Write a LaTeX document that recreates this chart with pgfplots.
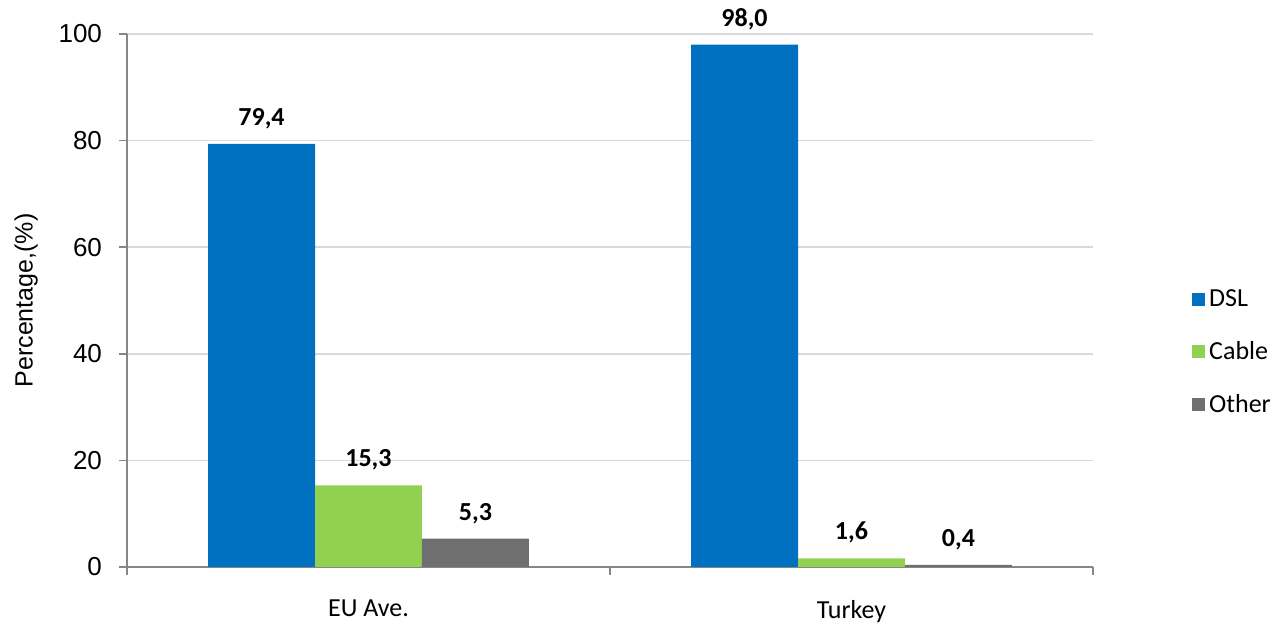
\documentclass[border=0pt]{standalone}
\usepackage{pgfplots}
\pgfplotsset{compat=1.18}
\usepackage{fontspec}
\setmainfont{Carlito}
\newfontfamily\arialf{Liberation Sans}
\definecolor{dsl}{HTML}{0070C0}
\definecolor{cable}{HTML}{92D050}
\definecolor{other}{HTML}{6F6F6F}
\definecolor{gridc}{HTML}{D9D9D9}
\definecolor{axc}{HTML}{868686}
\begin{document}
\begin{tikzpicture}
\useasboundingbox (-63.5pt,-29pt) rectangle (577pt,283.5pt);
\begin{axis}[
  scale only axis,
  width=483pt, height=266.5pt,
  at={(0,0)}, anchor=south west,
  xmin=-0.5, xmax=1.5, ymin=0, ymax=100,
  /pgf/number format/assume math mode=true,
  axis x line*=bottom, axis y line*=left,
  axis line style={axc, line width=0.8pt},
  xtick={0,1}, xticklabels={EU Ave., Turkey},
  minor xtick={-0.5,0.5,1.5},
  tick align=outside,
  major x tick style={draw=none},
  minor x tick style={axc, line width=0.8pt},
  minor tick length=4pt,
  ytick={0,20,40,60,80,100},
  major y tick style={axc, line width=0.8pt},
  major tick length=4pt,
  ymajorgrids, grid style={gridc, line width=0.8pt},
  x tick label style={font=\fontsize{13}{15}\selectfont, yshift=-9pt},
  y tick label style={font=\arialf\fontsize{13}{15}\selectfont, xshift=-5pt},
  ylabel={Percentage,(\%)},
  ylabel style={font=\arialf\fontsize{12.5}{14}\selectfont},
  ylabel shift=3.5pt,
  ybar, bar width=0.2215,
  nodes near coords,
  nodes near coords style={font=\bfseries\fontsize{13}{15}\selectfont, yshift=4pt,
    /pgf/number format/use comma, /pgf/number format/fixed, /pgf/number format/fixed zerofill, /pgf/number format/precision=1, /pgf/number format/assume math mode=true},
  legend style={at={(1.096,0.403)}, anchor=west, draw=none, fill=none,
    font=\fontsize{13}{15}\selectfont, row sep=12pt},
  legend cell align=left,
  legend image code/.code={\fill[#1] (0cm,-0.115cm) rectangle (0.23cm,0.115cm);},
  clip=false,
]
\addplot[fill=dsl, draw=none, bar shift=-0.2215] coordinates {(0,79.4) (1,98.0)};
\addplot[fill=cable, draw=none, bar shift=0] coordinates {(0,15.3) (1,1.6)};
\addplot[fill=other, draw=none, bar shift=0.2215] coordinates {(0,5.3) (1,0.4)};
\legend{DSL, Cable, Other}
\end{axis}
\end{tikzpicture}
\end{document}
